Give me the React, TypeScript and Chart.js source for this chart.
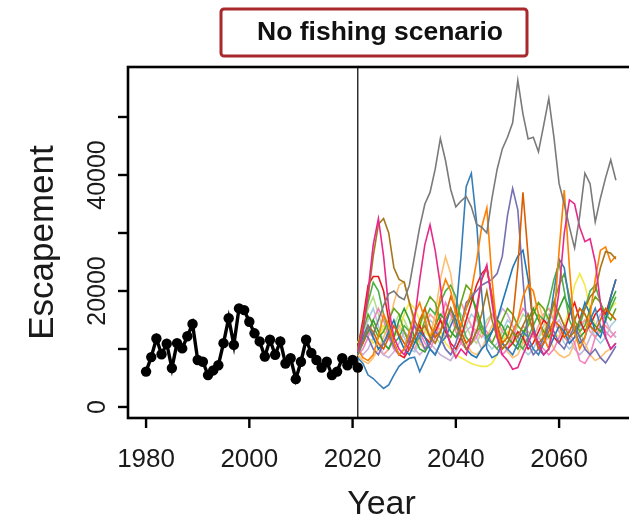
import { useEffect, useRef } from "react";
import { Chart, registerables } from "chart.js";

Chart.register(...registerables);

// Observed escapement, one value per year from HIST_START
const HIST_START = 1980;
const historic = [
  6100, 8600, 11800, 9100, 10900, 6700, 11000, 10100, 12200, 14300,
  8100, 7800, 5500, 6300, 7200, 11000, 15300, 10700, 17000, 16700,
  14700, 12700, 11300, 8700, 11600, 9000, 11300, 7500, 8400, 4800,
  7800, 11600, 9300, 8100, 6800, 7800, 5500, 6100, 8400, 7200,
  8100, 6800,
];

// Simulated trajectories under the no-fishing scenario, one value per year from PROJ_START
const PROJ_START = 2021;
const SPLIT_YEAR = 2021;

const simGray = [
  9000, 11500, 14000, 12500, 15000, 17500, 19500, 20000, 19000, 18500,
  21000, 26000, 31000, 35000, 37000, 41000, 46300, 42500, 37500, 34500,
  35500, 36300, 34500, 31500, 31000, 30000, 36000, 41000, 44500, 46500,
  49000, 56300, 50500, 46200, 46500, 44000, 48500, 53200, 46500, 38500,
  35000, 31000, 27400, 33000, 40300, 38500, 31900, 36000, 39500, 42600, 39100,
];
const simPink = [
  9500, 13000, 20000, 28000, 32500, 26000, 17000, 12000, 10000, 9000,
  11000, 15000, 22000, 28000, 31400, 27000, 21000, 14000, 10500, 8500,
  10000, 9000, 12000, 17000, 22000, 24500, 18000, 12000, 9000, 8000,
  6500, 6800, 9000, 11000, 13000, 11000, 9000, 10000, 14000, 20000,
  30000, 35700, 35000, 31000, 28500, 29000, 25000, 18000, 12000, 10000, 11000,
];
const simBrown = [
  10000, 14000, 19000, 26000, 31500, 32500, 30000, 24000, 22000, 21500,
  18000, 15000, 13000, 14000, 12000, 11000, 13000, 15000, 17000, 14000,
  12000, 10000, 11000, 13000, 16000, 20000, 15000, 12000, 10000, 11000,
  13000, 12000, 14000, 16000, 13000, 11000, 12000, 15000, 18000, 16000,
  14000, 12000, 13000, 15000, 17000, 19000, 20000, 24000, 26800, 26500, 25500,
];
const simBlue = [
  8500, 7500, 5500, 4900, 4000, 3200, 3800, 5500, 7000, 7800,
  8400, 8600, 6100, 8000, 10000, 9000, 11000, 12000, 14000, 16000,
  26000, 38000, 40300, 32000, 19600, 10000, 8500, 9000, 11000, 10000,
  9000, 11000, 13000, 12000, 10000, 9000, 11000, 14000, 20000, 25500,
  24000, 18000, 13000, 11000, 12000, 15000, 17000, 14000, 12000, 10000, 11000,
];
const simSteelBlue = [
  9000, 12000, 14000, 12000, 10000, 11000, 13000, 15000, 12000, 10000,
  9000, 11000, 13000, 12000, 10000, 9000, 11000, 14000, 17000, 15000,
  12000, 10000, 9000, 8500, 10000, 11000, 13000, 15000, 18000, 21000,
  24000, 26000, 27000, 22000, 14000, 10000, 9000, 10000, 12000, 14000,
  13000, 11000, 12000, 15000, 18000, 16000, 13000, 12000, 15000, 19000, 22000,
];
const simPurple = [
  10000, 13000, 12000, 10000, 9000, 11000, 12500, 10500, 9000, 10000,
  12000, 14000, 12000, 10000, 11000, 13000, 12000, 10000, 9000, 11000,
  14000, 18000, 19000, 20000, 21000, 21500, 22000, 23000, 26000, 33000,
  37700, 34000, 22000, 11000, 9000, 10000, 12000, 14000, 13000, 11000,
  10000, 12000, 14000, 12000, 10000, 9000, 10000, 8500, 7600, 9000, 10500,
];
const simDarkOrange = [
  9500, 11000, 14000, 13000, 11000, 10000, 12000, 14000, 12500, 11000,
  10000, 12000, 15000, 17000, 14000, 12000, 13000, 16000, 19000, 17000,
  13000, 11000, 12000, 16000, 22000, 24000, 19000, 14000, 11000, 12000,
  15000, 24000, 37000, 26000, 13000, 10000, 11000, 13000, 15000, 14000,
  12000, 13000, 15000, 17000, 16000, 14000, 13000, 15000, 17000, 16000, 15000,
];
const simOrange = [
  10000, 8500, 8000, 9000, 12000, 16000, 14000, 11000, 9000, 10000,
  13000, 16000, 18000, 15000, 12000, 14000, 19000, 22000, 20000, 16000,
  14000, 17000, 20000, 25000, 31000, 34300, 22000, 13000, 10000, 11000,
  13000, 15000, 19000, 21000, 20000, 16000, 12000, 10000, 15000, 27000,
  37400, 24000, 13000, 10000, 12000, 16000, 22000, 27000, 27600, 25000, 26000,
];
const simRed = [
  10000, 15000, 21000, 22500, 22500, 20000, 15000, 11000, 9000, 8500,
  10000, 12000, 14000, 12000, 11000, 13000, 15000, 13000, 11000, 10000,
  12000, 15000, 18000, 21000, 23000, 24000, 19000, 14000, 11000, 10000,
  11000, 13000, 12000, 10000, 11000, 13000, 15000, 14000, 12000, 11000,
  13000, 16000, 18000, 15000, 13000, 14000, 16000, 17000, 16000, 19000, 22000,
];
const simGreen = [
  10000, 14000, 18000, 21500, 20000, 16000, 13000, 11000, 12000, 14000,
  13000, 11000, 12000, 15000, 17000, 16000, 18000, 20000, 21000, 19000,
  15000, 12000, 11000, 13000, 14000, 12000, 11000, 10000, 12000, 14000,
  13000, 11000, 10000, 12000, 14000, 16000, 15000, 18000, 22000, 24800,
  20000, 15000, 13000, 14000, 17000, 20000, 21000, 18000, 15000, 17000, 19000,
];
const simDarkGreen = [
  9000, 11000, 13000, 15000, 13000, 11000, 10000, 12000, 15000, 17000,
  15000, 12000, 10000, 9500, 11000, 14000, 16000, 15000, 13000, 12000,
  14000, 17000, 19000, 17000, 14000, 12000, 13000, 15000, 14000, 12000,
  11000, 10000, 12000, 15000, 17000, 15000, 13000, 12000, 14000, 17000,
  19000, 17000, 14000, 12000, 13000, 15000, 14000, 13000, 15000, 18000, 20000,
];
const simYellow = [
  11000, 13000, 12000, 11000, 12000, 14000, 13000, 12000, 13000, 16000,
  18000, 17000, 15000, 13000, 12000, 14000, 13000, 11000, 10000, 9000,
  8500, 8000, 7500, 7200, 7000, 7000, 7500, 9000, 11000, 13000,
  12000, 11000, 12000, 14000, 16000, 18000, 17000, 15000, 13000, 12000,
  14000, 17000, 21000, 23000, 21000, 17000, 14000, 13000, 15000, 17000, 18000,
];
const simLightOrange = [
  9000, 8000, 7500, 8500, 10000, 12000, 14000, 18000, 21000, 21600,
  18000, 14000, 11000, 10000, 12000, 16000, 22000, 25900, 23000, 17000,
  13000, 11000, 9500, 9000, 10000, 12000, 14000, 13000, 11000, 9500,
  8500, 9000, 11000, 14000, 17000, 18000, 15000, 12000, 10000, 9000,
  8500, 9000, 11000, 13000, 11000, 9000, 8000, 8500, 9500, 10000, 11000,
];
const simLightBlue = [
  10000, 12000, 15000, 17000, 14000, 11000, 10000, 12000, 14000, 12000,
  10000, 9500, 11000, 13000, 15000, 14000, 12000, 10000, 9000, 10000,
  12000, 14000, 16000, 15000, 13000, 11000, 10000, 11000, 13000, 15000,
  14000, 12000, 10000, 9000, 10000, 12000, 14000, 16000, 15000, 13000,
  11000, 10000, 11000, 13000, 15000, 14000, 12000, 11000, 12000, 14000, 15000,
];
const simLightGreen = [
  11000, 14000, 17000, 19000, 16000, 13000, 12000, 14000, 16000, 15000,
  13000, 12000, 14000, 16000, 14000, 12000, 11000, 13000, 15000, 17000,
  16000, 14000, 12000, 11000, 13000, 15000, 16000, 14000, 12000, 11000,
  12000, 14000, 16000, 15000, 13000, 12000, 13000, 15000, 17000, 16000,
  14000, 13000, 15000, 17000, 16000, 14000, 13000, 15000, 17000, 16000, 15000,
];
const simSalmon = [
  9500, 11000, 13000, 12000, 10000, 9000, 10000, 12000, 14000, 13000,
  11000, 10000, 12000, 14000, 16000, 15000, 13000, 12000, 14000, 16000,
  18000, 16000, 14000, 13000, 12000, 14000, 16000, 15000, 13000, 12000,
  11000, 12000, 14000, 13000, 12000, 14000, 16000, 17000, 15000, 13000,
  12000, 11000, 12000, 14000, 15000, 13000, 12000, 13000, 14000, 13000, 12000,
];
const simLavender = [
  10000, 9000, 10000, 12000, 11000, 9000, 8500, 9500, 11000, 13000,
  12000, 10000, 9000, 10000, 11000, 10000, 9000, 8500, 8000, 9500,
  11000, 13000, 14000, 12000, 10000, 11000, 13000, 15000, 17000, 16000,
  14000, 12000, 11000, 12000, 13000, 12000, 11000, 12000, 14000, 15000,
  13000, 12000, 10000, 9000, 10000, 12000, 14000, 16000, 15000, 13000, 12000,
];
const simOlive = [
  10000, 13000, 16000, 14000, 12000, 13000, 15000, 17000, 16000, 13000,
  11000, 12000, 14000, 17000, 19000, 18000, 15000, 13000, 12000, 14000,
  18000, 21000, 20000, 16000, 13000, 12000, 11000, 13000, 15000, 17000,
  16000, 14000, 13000, 14000, 16000, 18000, 17000, 15000, 18000, 21000,
  23000, 19000, 15000, 13000, 14000, 17000, 19000, 18000, 16000, 15000, 17000,
];
const simRose = [
  9000, 10000, 12000, 15000, 17000, 15000, 12000, 10000, 9000, 10000,
  12000, 14000, 13000, 11000, 10000, 12000, 15000, 18000, 16000, 13000,
  11000, 10000, 11000, 12000, 14000, 13000, 11000, 10000, 9000, 10000,
  12000, 15000, 17000, 16000, 13000, 11000, 10000, 9000, 10000, 12000,
  14000, 13000, 11000, 8000, 7500, 9000, 12000, 14000, 13000, 12000, 13000,
];

const simulations: [number[], string][] = [
  [simLightBlue, "#a6cee3"],
  [simLightGreen, "#b2df8a"],
  [simSalmon, "#fb9a99"],
  [simLavender, "#cab2d6"],
  [simLightOrange, "#fdbf6f"],
  [simYellow, "#f3ea4a"],
  [simRose, "#f781bf"],
  [simOlive, "#66a61e"],
  [simDarkGreen, "#33a02c"],
  [simGreen, "#4daf4a"],
  [simRed, "#e41a1c"],
  [simSteelBlue, "#1f78b4"],
  [simBlue, "#377eb8"],
  [simPurple, "#7570b3"],
  [simDarkOrange, "#d95f02"],
  [simOrange, "#ff7f00"],
  [simBrown, "#a6761d"],
  [simPink, "#e7298a"],
  [simGray, "#7a7a7a"],
];

const X_TICKS = [1980, 2000, 2020, 2040, 2060];
const Y_TICKS = [0, 10000, 20000, 30000, 40000, 50000];
const Y_LABELED = [0, 20000, 40000];

const TITLE = "No fishing scenario";
const X_TITLE = "Year";
const Y_TITLE = "Escapement";

const FONT = '"Liberation Sans", Arial, Helvetica, sans-serif';

const series = (start: number, values: number[]) =>
  values.map((v, i) => ({ x: start + i, y: v }));

const framePlugin = {
  id: "rFrame",
  beforeDatasetsDraw(chart: any) {
    const { ctx, chartArea: a, scales } = chart;
    const vx = scales.x.getPixelForValue(SPLIT_YEAR);
    ctx.save();
    ctx.strokeStyle = "#222";
    ctx.lineWidth = 1.4;
    ctx.beginPath();
    ctx.moveTo(vx, a.top);
    ctx.lineTo(vx, a.bottom);
    ctx.stroke();
    ctx.restore();
  },
  afterDraw(chart: any) {
    const { ctx, chartArea: a, scales } = chart;
    const xs = scales.x;
    const ys = scales.y;
    ctx.save();

    // plot frame
    ctx.strokeStyle = "#000";
    ctx.lineWidth = 2.6;
    ctx.strokeRect(a.left, a.top, a.right - a.left, a.bottom - a.top);

    // x axis ticks and labels
    ctx.lineWidth = 2.4;
    ctx.fillStyle = "#1a1a1a";
    ctx.font = `26px ${FONT}`;
    ctx.textAlign = "center";
    ctx.textBaseline = "alphabetic";
    for (const t of X_TICKS) {
      const px = xs.getPixelForValue(t);
      ctx.beginPath();
      ctx.moveTo(px, a.bottom);
      ctx.lineTo(px, a.bottom + 10);
      ctx.stroke();
      ctx.fillText(String(t), px, 467);
    }

    // y axis ticks and rotated labels
    for (const t of Y_TICKS) {
      const py = ys.getPixelForValue(t);
      ctx.beginPath();
      ctx.moveTo(a.left, py);
      ctx.lineTo(a.left - 10, py);
      ctx.stroke();
      if (Y_LABELED.includes(t)) {
        ctx.save();
        ctx.translate(105, py);
        ctx.rotate(-Math.PI / 2);
        ctx.font = `25px ${FONT}`;
        ctx.fillText(String(t), 0, 0);
        ctx.restore();
      }
    }

    // axis titles
    ctx.font = `34px ${FONT}`;
    ctx.fillText(X_TITLE, (a.left + a.right) / 2, 514);
    ctx.save();
    ctx.translate(53, (a.top + a.bottom) / 2);
    ctx.rotate(-Math.PI / 2);
    ctx.font = `35px ${FONT}`;
    ctx.fillText(Y_TITLE, 0, 0);
    ctx.restore();

    // boxed title
    const bx = 221, by = 9, bw = 306, bh = 47, r = 3;
    ctx.strokeStyle = "#a8282c";
    ctx.lineWidth = 3;
    ctx.beginPath();
    ctx.moveTo(bx + r, by);
    ctx.arcTo(bx + bw, by, bx + bw, by + bh, r);
    ctx.arcTo(bx + bw, by + bh, bx, by + bh, r);
    ctx.arcTo(bx, by + bh, bx, by, r);
    ctx.arcTo(bx, by, bx + bw, by, r);
    ctx.closePath();
    ctx.stroke();
    ctx.fillStyle = "#111";
    ctx.font = `bold 26.5px ${FONT}`;
    ctx.fillText(TITLE, 380, 40);

    ctx.restore();
  },
};

export default function App() {
  const canvasRef = useRef<HTMLCanvasElement | null>(null);

  useEffect(() => {
    document.body.style.margin = "0";
    const canvas = canvasRef.current;
    if (!canvas) return;

    const datasets: any[] = [
      {
        data: series(HIST_START, historic),
        borderColor: "#000",
        backgroundColor: "#000",
        borderWidth: 3.4,
        pointRadius: 5.2,
        pointBorderWidth: 0,
        pointBackgroundColor: "#000",
        tension: 0,
        order: 0,
      },
      ...simulations.map(([values, color], i) => ({
        data: series(PROJ_START, values),
        borderColor: color,
        backgroundColor: color,
        borderWidth: 1.6,
        pointRadius: 0,
        tension: 0,
        order: simulations.length - i,
      })),
    ];

    const chart = new Chart(canvas, {
      type: "line",
      data: { datasets },
      options: {
        animation: false,
        responsive: false,
        maintainAspectRatio: false,
        devicePixelRatio: 1,
        layout: { padding: { left: 0, top: 67, right: 10, bottom: 0 } },
        plugins: {
          legend: { display: false },
          tooltip: { enabled: false },
          title: { display: false },
        },
        scales: {
          x: {
            type: "linear",
            min: 1976.5,
            max: 2074.7,
            grid: { display: false },
            border: { display: false },
            ticks: { display: false },
            afterFit: (s: any) => {
              s.height = 104;
            },
          },
          y: {
            type: "linear",
            min: -1900,
            max: 58620,
            grid: { display: false },
            border: { display: false },
            ticks: { display: false },
            afterFit: (s: any) => {
              s.width = 128;
            },
          },
        },
      },
      plugins: [framePlugin],
    });

    return () => chart.destroy();
  }, []);

  return (
    <div style={{ width: 629, height: 522, overflow: "hidden", position: "relative", background: "#fff" }}>
      <canvas ref={canvasRef} width={645} height={522} style={{ display: "block" }} />
    </div>
  );
}
